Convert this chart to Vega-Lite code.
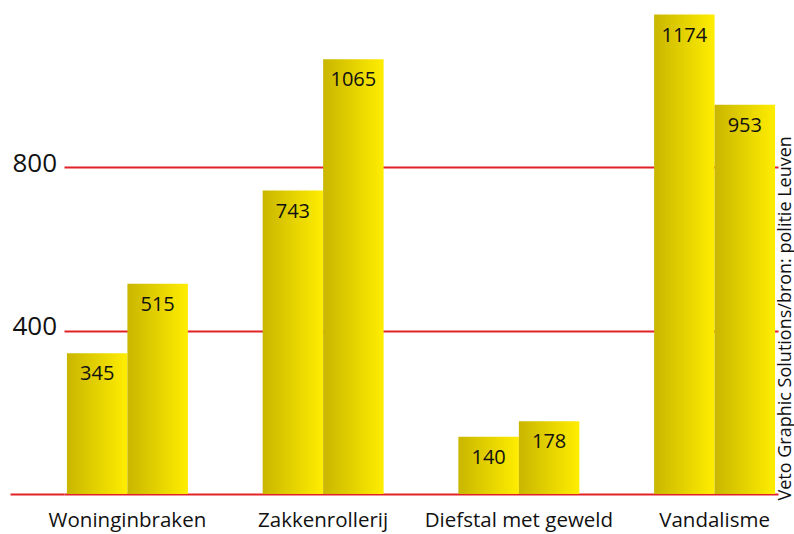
{
  "$schema": "https://vega.github.io/schema/vega-lite/v6.json",
  "width": 714,
  "height": 490,
  "autosize": {"type": "none"},
  "padding": {"left": 64, "top": 4, "right": 16, "bottom": 40},
  "background": "white",
  "config": {"view": {"stroke": null}, "font": "Open Sans"},
  "data": {"values": [
    {"categorie": "Woninginbraken", "reeks": "A", "aantal": 345},
    {"categorie": "Woninginbraken", "reeks": "B", "aantal": 515},
    {"categorie": "Zakkenrollerij", "reeks": "A", "aantal": 743},
    {"categorie": "Zakkenrollerij", "reeks": "B", "aantal": 1065},
    {"categorie": "Diefstal met geweld", "reeks": "A", "aantal": 140},
    {"categorie": "Diefstal met geweld", "reeks": "B", "aantal": 178},
    {"categorie": "Vandalisme", "reeks": "A", "aantal": 1174},
    {"categorie": "Vandalisme", "reeks": "B", "aantal": 953}
  ]},
  "encoding": {
    "x": {"field": "categorie", "type": "nominal", "sort": null,
      "scale": {"paddingInner": 0.382, "paddingOuter": 0.015},
      "axis": {"title": null, "domain": false, "ticks": false, "labelAngle": 0, "labelLimit": 0,
        "labelFontSize": 20.5, "labelColor": "#111111", "labelPadding": 16, "labelFont": "Open Sans"}},
    "xOffset": {"field": "reeks", "type": "nominal", "scale": {"paddingInner": 0, "paddingOuter": 0}}
  },
  "layer": [
    {
      "mark": {"type": "bar", "color": {"gradient": "linear", "x1": 0, "y1": 0, "x2": 1, "y2": 0,
        "stops": [{"offset": 0, "color": "#c9b600"}, {"offset": 1, "color": "#ffed00"}]}},
      "encoding": {
        "y": {"field": "aantal", "type": "quantitative", "scale": {"domain": [0, 1200], "nice": false},
          "axis": {"title": null, "values": [0, 400, 800], "domain": false, "grid": true,
            "gridColor": "#e32228", "gridWidth": 2, "gridOpacity": 1,
            "tickSize": 54, "tickWidth": 2,
            "tickColor": {"condition": {"test": "datum.value == 0", "value": "#e32228"}, "value": "transparent"},
            "labelExpr": "datum.value == 0 ? '' : datum.label",
            "labelAlign": "left", "labelPadding": -2, "labelFontSize": 26, "labelColor": "#111111",
            "labelBaseline": "middle", "labelOffset": -4, "labelFont": "Open Sans"}}
      }
    },
    {
      "mark": {"type": "text", "baseline": "middle", "dy": 21, "fontSize": 20, "color": "#111111", "font": "Open Sans"},
      "encoding": {
        "y": {"field": "aantal", "type": "quantitative", "scale": {"domain": [0, 1200], "nice": false},
          "axis": {"orient": "right", "title": "Veto Graphic Solutions/bron: politie Leuven",
            "labels": false, "ticks": false, "domain": false, "grid": false,
            "titleAngle": 270, "titleAlign": "left", "titleBaseline": "alphabetic",
            "titleX": 12, "titleY": 496, "titleFontSize": 18, "titleFontWeight": "normal",
            "titleColor": "#111111", "titleFont": "Open Sans"}},
        "text": {"field": "aantal", "type": "quantitative"}
      }
    }
  ],
  "resolve": {"axis": {"y": "independent"}}
}
